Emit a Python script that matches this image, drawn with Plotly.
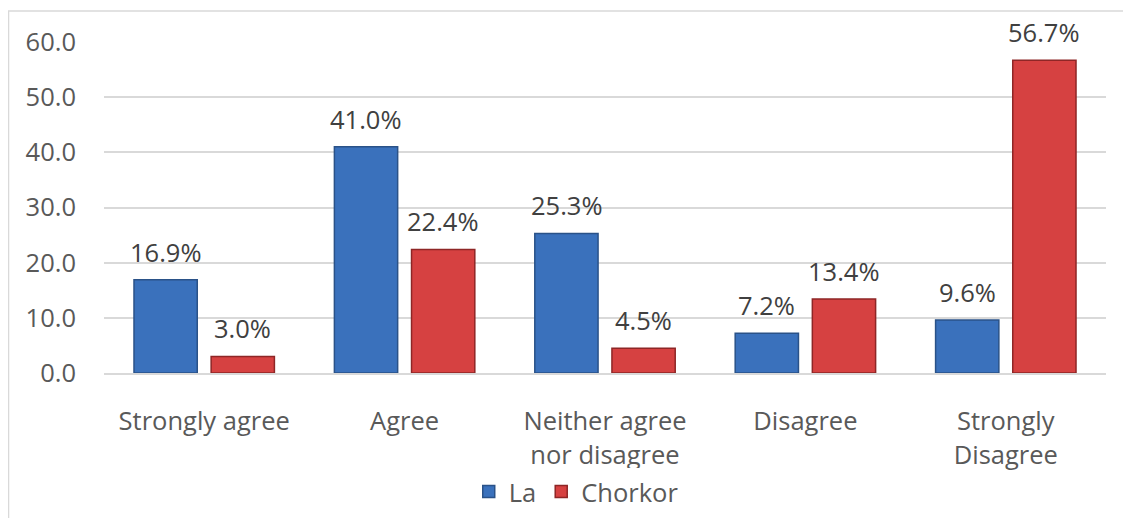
import plotly.graph_objects as go

categories = ["Strongly agree", "Agree", "Neither agree<br>nor disagree", "Disagree", "Strongly<br>Disagree"]
la_values = [16.9, 41.0, 25.3, 7.2, 9.6]
chorkor_values = [3.0, 22.4, 4.5, 13.4, 56.7]
y_ticks = [0, 10, 20, 30, 40, 50, 60]
y_tick_labels = ["0.0", "10.0", "20.0", "30.0", "40.0", "50.0", "60.0"]

FONT = "Open Sans"
FS = 25.5
fig = go.Figure()
fig.add_trace(go.Bar(
    name="La", x=categories, y=la_values,
    marker=dict(color="#3A71BC", line=dict(color="#2A5288", width=1.5)),
))
fig.add_trace(go.Bar(
    name="Chorkor", x=categories, y=chorkor_values,
    marker=dict(color="#D64141", line=dict(color="#8E2626", width=1.5)),
))

# data labels as annotations (shifted to each bar of the group)
annotations = []
for values, shift in ((la_values, -38.5), (chorkor_values, 38.5)):
    for cat, v in zip(categories, values):
        annotations.append(dict(
            x=cat, y=v, xref="x", yref="y", text=f"{v:.1f}%", showarrow=False,
            yanchor="bottom", xanchor="center", xshift=shift, yshift=9,
            font=dict(family=FONT, size=FS, color="#404040"),
        ))

fig.update_layout(
    width=1123, height=510,
    margin=dict(l=96, r=25, t=34, b=145, autoexpand=False),
    paper_bgcolor="white", plot_bgcolor="white",
    barmode="group", bargap=0.23, bargroupgap=0.18,
    font=dict(family=FONT, size=FS, color="#595959"),
    showlegend=True,
    legend=dict(orientation="h", xref="container", x=0.506, xanchor="center",
                yref="container", y=0.051, yanchor="middle",
                font=dict(family=FONT, size=FS, color="#595959"),
                itemwidth=30, traceorder="normal"),
    xaxis=dict(showgrid=False, showline=True, linecolor="#d9d9d9", linewidth=1.5,
               automargin=False,
               ticks="", ticklabelstandoff=25, tickfont=dict(size=FS, color="#595959")),
    yaxis=dict(range=[0, 60], tickvals=y_ticks, ticktext=y_tick_labels,
               automargin=False,
               showgrid=True, gridcolor="#d9d9d9", gridwidth=1.5,
               zeroline=False, showline=False, ticks="", ticklabelstandoff=27,
               tickfont=dict(size=FS, color="#595959")),
    annotations=annotations,
    shapes=[dict(type="rect", xref="x domain", yref="y domain",
                 x0=-0.0953, x1=1.05, y0=-0.6, y1=1.094,
                 line=dict(color="#d9d9d9", width=1.5), fillcolor="rgba(0,0,0,0)", layer="below")],
)

fig.write_html("out.html")
